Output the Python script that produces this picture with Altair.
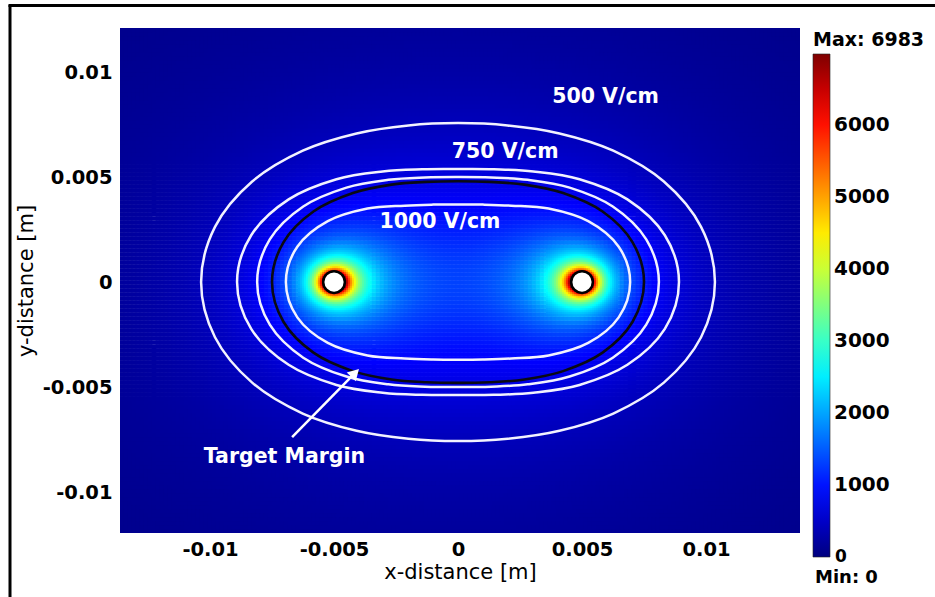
import altair as alt
import numpy as np
import pandas as pd

# ---------------- values ----------------
X_DOMAIN = [-0.01363, 0.01379]
Y_DOMAIN = [-0.01195, 0.0121]
AXIS_TICKS = [-0.01, -0.005, 0, 0.005, 0.01]

ELECTRODE_X = [-0.005, 0.005]
ELECTRODE_Y = [0.0, 0.0]
ELECTRODE_RADIUS = 0.0005
FIELD_MAX = 6983
FIELD_MIN = 0

COLOR_STOPS = [0, 873, 2619, 4364, 6110, 6983]
COLOR_RANGE = ["#00007f", "#0000ff", "#00ffff", "#ffff00", "#ff0000", "#7f0000"]
COLORBAR_LABELS = [1000, 2000, 3000, 4000, 5000, 6000]

# quarter outlines (x >= 0, y >= 0) of the iso-lines, mirrored to all quadrants
C500_X = [0.01036, 0.00980, 0.00830, 0.00626, 0.00409, 0.00200, 0.0]
C500_Y = [0.0, 0.00263, 0.00479, 0.00626, 0.00708, 0.00746, 0.00757]
C750_X = [0.00891, 0.00834, 0.00683, 0.00490, 0.00304, 0.00144, 0.0]
C750_Y = [0.0, 0.00223, 0.00394, 0.00490, 0.00527, 0.00537, 0.00538]
CMID_X = [0.00810, 0.00759, 0.00624, 0.00450, 0.00281, 0.00133, 0.0]
CMID_Y = [0.0, 0.00203, 0.00360, 0.00450, 0.00487, 0.00498, 0.00500]
C1000_X = [0.00694, 0.00648, 0.00525, 0.00365, 0.00215, 0.00100, 0.0]
C1000_Y = [0.0, 0.00168, 0.00290, 0.00350, 0.00364, 0.00369, 0.00370]
MARGIN_X = [0.00750, 0.00704, 0.00583, 0.00424, 0.00268, 0.00128, 0.0]
MARGIN_Y = [0.0, 0.00189, 0.00336, 0.00424, 0.00464, 0.00477, 0.00480]

LABEL_TEXT = ["500 V/cm", "750 V/cm", "1000 V/cm", "Target Margin"]
LABEL_X = [0.00595, 0.0019, -0.00073, -0.0070]
LABEL_Y = [0.00881, 0.00619, 0.00286, -0.00833]
ARROW_TAIL = [-0.00669, -0.00738]
ARROW_HEAD = [-0.00415, -0.00433]

# ---------------- field (two line electrodes) ----------------
def field(x, y):
    e1, e2 = ELECTRODE_X
    r1 = np.hypot(x - e1, y - ELECTRODE_Y[0])
    r2 = np.hypot(x - e2, y - ELECTRODE_Y[1])
    s0 = ELECTRODE_RADIUS * (abs(e2 - e1) - ELECTRODE_RADIUS)
    return np.round(FIELD_MAX * s0 / np.maximum(r1 * r2, s0))

PLOT_W, PLOT_H = 680, 505
x0, x1 = X_DOMAIN
y0, y1 = Y_DOMAIN
nx, ny = 170, 126
dxc = (x1 - x0) / nx
dyc = (y1 - y0) / ny
gx, gy = np.meshgrid(x0 + dxc * (np.arange(nx) + 0.5), y0 + dyc * (np.arange(ny) + 0.5))
coarse = pd.DataFrame({"x": gx.ravel().round(7), "y": gy.ravel().round(7)})
coarse["E"] = field(coarse["x"].values, coarse["y"].values)

dxf = (x1 - x0) / PLOT_W * 2
dyf = (y1 - y0) / PLOT_H * 2
fine_parts = []
for ex in ELECTRODE_X:
    fx = ex + dxf * (np.arange(-18, 18) + 0.5)
    fy = dyf * (np.arange(-17, 17) + 0.5)
    mx, my = np.meshgrid(fx, fy)
    fine_parts.append(pd.DataFrame({"x": mx.ravel().round(7), "y": my.ravel().round(7)}))
fine = pd.concat(fine_parts, ignore_index=True)
fine["E"] = field(fine["x"].values, fine["y"].values)


def ring(qx, qy):
    pts = list(zip(qx, qy))
    q2 = [(-a, b) for a, b in reversed(pts)][1:]
    q3 = [(-a, -b) for a, b in pts][1:]
    q4 = [(a, -b) for a, b in reversed(pts)][1:-1]
    return pts + q2 + q3 + q4


rows = []
for name, qx, qy in [("500", C500_X, C500_Y), ("750", C750_X, C750_Y),
                     ("mid", CMID_X, CMID_Y), ("1000", C1000_X, C1000_Y)]:
    for i, (a, b) in enumerate(ring(qx, qy)):
        rows.append({"name": name, "x": a, "y": b, "o": i})
contours = pd.DataFrame(rows)
margin = pd.DataFrame([{"x": a, "y": b, "o": i} for i, (a, b) in enumerate(ring(MARGIN_X, MARGIN_Y))])

xscale = alt.Scale(domain=X_DOMAIN, nice=False, zero=False)
yscale = alt.Scale(domain=Y_DOMAIN, nice=False, zero=False)
cscale = alt.Scale(domain=COLOR_STOPS, range=COLOR_RANGE, interpolate="rgb")

FONT = "DejaVu Sans"
xaxis = alt.Axis(values=AXIS_TICKS, labelExpr="'' + datum.value", title="x-distance [m]",
                 labelPadding=7, titlePadding=3)
yaxis = alt.Axis(values=AXIS_TICKS, labelExpr="'' + datum.value", title="y-distance [m]",
                 labelPadding=8, titlePadding=6)
legend = alt.Legend(orient="none", legendX=693, legendY=3, direction="vertical",
                    gradientLength=503, gradientThickness=17, title="Max: 6983",
                    titleFont=FONT, titleFontSize=19, titleFontWeight="bold", titleColor="black",
                    titlePadding=4, titleAnchor="start",
                    labelFont=FONT, labelFontSize=20, labelFontWeight="bold", labelColor="black",
                    labelOffset=4, values=COLORBAR_LABELS, format="d", labelOverlap=False,
                    gradientStrokeColor="#222222", gradientStrokeWidth=0.6)


def heat_layer(df, hw, hh):
    return alt.Chart(df).transform_calculate(
        x0=f"datum.x - {hw}", x1=f"datum.x + {hw}",
        y0=f"datum.y - {hh}", y1=f"datum.y + {hh}",
    ).mark_rect(clip=True, strokeWidth=0).encode(
        x=alt.X("x0:Q", scale=xscale, axis=xaxis),
        x2="x1:Q",
        y=alt.Y("y0:Q", scale=yscale, axis=yaxis),
        y2="y1:Q",
        color=alt.Color("E:Q", scale=cscale, legend=legend),
    )


heat_c = heat_layer(coarse, dxc * 0.56, dyc * 0.56)
heat_f = heat_layer(fine, dxf * 0.56, dyf * 0.56)

white_lines = alt.Chart(contours).mark_line(
    interpolate="cardinal-closed", color="#f2f2ff", strokeWidth=2.5
).encode(x="x:Q", y="y:Q", order="o:Q", detail="name:N")

black_line = alt.Chart(margin).mark_line(
    interpolate="cardinal-closed", color="#0a0a14", strokeWidth=2.6
).encode(x="x:Q", y="y:Q", order="o:Q")

electrodes = alt.Chart(pd.DataFrame({"x": ELECTRODE_X, "y": ELECTRODE_Y})).mark_point(
    shape="circle", filled=True, fill="white", stroke="black", strokeWidth=2.5, size=470, opacity=1
).encode(x="x:Q", y="y:Q")

labels = alt.Chart(pd.DataFrame({"t": LABEL_TEXT, "x": LABEL_X, "y": LABEL_Y})).mark_text(
    font=FONT, fontSize=20.5, fontWeight="bold", color="white", align="center", baseline="middle"
).encode(x="x:Q", y="y:Q", text="t:N")

arrow_df = pd.DataFrame({"x": [ARROW_TAIL[0]], "y": [ARROW_TAIL[1]],
                         "x2": [ARROW_HEAD[0]], "y2": [ARROW_HEAD[1]]})
arrow = alt.Chart(arrow_df).mark_rule(color="white", strokeWidth=2.5).encode(
    x="x:Q", y="y:Q", x2="x2:Q", y2="y2:Q")
head = alt.Chart(arrow_df).mark_point(
    shape="triangle-up", filled=True, color="white", size=160, angle=45, opacity=1
).encode(x="x2:Q", y="y2:Q")

one = pd.DataFrame({"a": [0]})
frame_v = alt.Chart(one).mark_rule(color="black", strokeWidth=3).encode(
    x=alt.value(-110), y=alt.value(-23), y2=alt.value(569))
frame_h = alt.Chart(one).mark_rule(color="black", strokeWidth=3).encode(
    x=alt.value(-111.5), x2=alt.value(815), y=alt.value(-22.5))
zero_lbl = alt.Chart(one).mark_text(
    text="0", font=FONT, fontSize=17, fontWeight="bold", color="black", align="left", baseline="alphabetic"
).encode(x=alt.value(715), y=alt.value(534))
min_lbl = alt.Chart(one).mark_text(
    text="Min: 0", font=FONT, fontSize=18, fontWeight="bold", color="black", align="left", baseline="alphabetic"
).encode(x=alt.value(695), y=alt.value(555))

chart = alt.layer(
    heat_c, heat_f, white_lines, black_line, electrodes, arrow, head, labels,
    frame_v, frame_h, zero_lbl, min_lbl
).properties(
    width=PLOT_W, height=PLOT_H,
    autosize=alt.AutoSizeParams(type="none"),
    padding={"left": 120, "top": 28, "right": 135, "bottom": 64},
    background="white",
).configure_view(stroke=None).configure_axis(
    ticks=False, domain=False, grid=False,
    labelFont=FONT, labelFontSize=19.5, labelFontWeight="bold", labelColor="black",
    titleFont=FONT, titleFontSize=21, titleFontWeight="normal", titleColor="black",
)

chart.save("out.html", embed_options={"renderer": "svg", "actions": False})
